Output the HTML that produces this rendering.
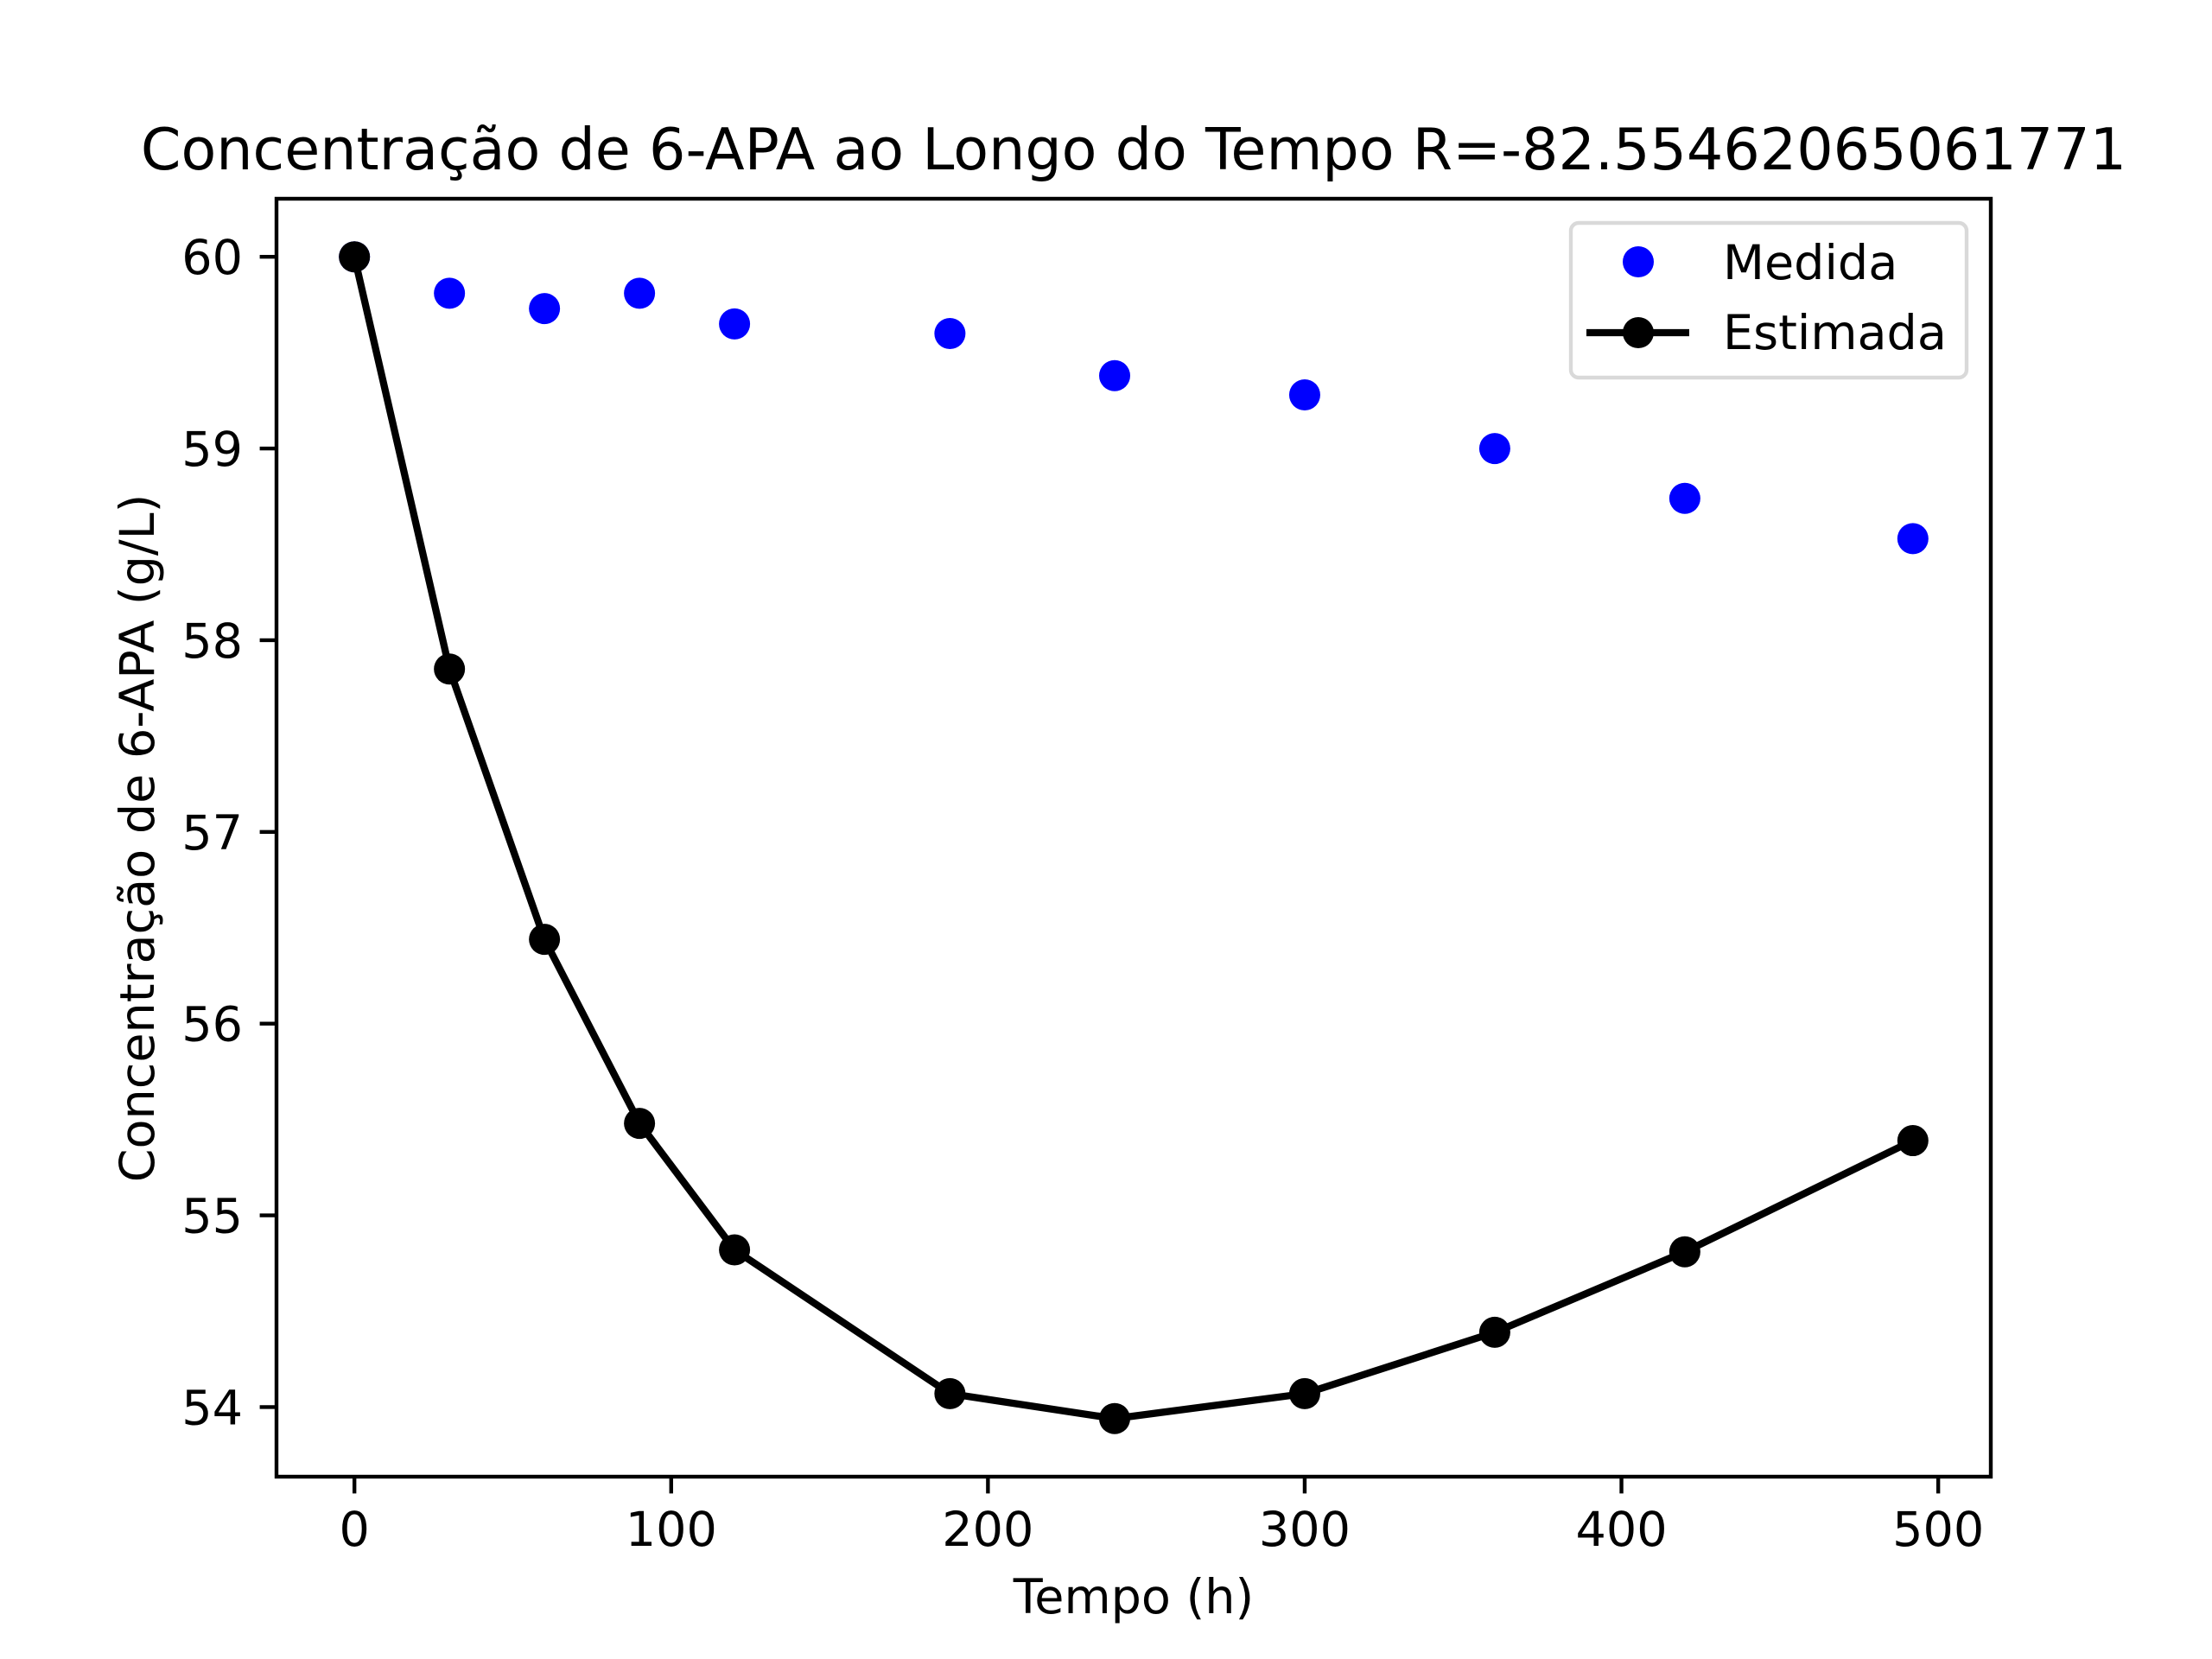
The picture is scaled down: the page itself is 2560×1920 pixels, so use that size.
<!DOCTYPE html>
<html><head><meta charset="utf-8"><style>
html,body{margin:0;padding:0;background:#fff;}
svg{display:block;font-family:"DejaVu Sans","Liberation Sans",sans-serif;}
</style></head><body>
<svg id="chart" width="2560" height="1920" viewBox="0 0 2560 1920" xmlns="http://www.w3.org/2000/svg">
<rect width="2560" height="1920" fill="#fff"/>
<text x="1312" y="196" font-size="66.7" text-anchor="middle">Concentração de 6-APA ao Longo do Tempo R=-82.55462065061771</text>
<g id="ticks"></g>
<g id="series"></g>
<rect x="320" y="230" width="1984" height="1479" fill="none" stroke="#000" stroke-width="4.4"/>
<text x="1312" y="1867" font-size="55.6" text-anchor="middle">Tempo (h)</text>
<text transform="translate(178,970) rotate(-90)" font-size="55.6" text-anchor="middle">Concentração de 6-APA (g/L)</text>
<g>
<rect x="1818" y="258" width="458" height="179" rx="9" fill="#fff" fill-opacity="0.8" stroke="#d9d9d9" stroke-width="4.4"/>
<circle cx="1896" cy="303" r="18" fill="#0000ff"/>
<text x="1994" y="323" font-size="55.6">Medida</text>
<line x1="1836" y1="385" x2="1955" y2="385" stroke="#000" stroke-width="8.3"/>
<circle cx="1896" cy="385" r="18" fill="#000"/>
<text x="1994" y="404" font-size="55.6">Estimada</text>
</g>
</svg>
<script>
const times = [0, 30, 60, 90, 120, 188, 240, 300, 360, 420, 492];
const medida = [60, 59.81, 59.73, 59.81, 59.65, 59.60, 59.38, 59.28, 59.00, 58.74, 58.53];
const estimada = [60, 57.85, 56.44, 55.48, 54.82, 54.07, 53.94, 54.07, 54.39, 54.81, 55.39];
const xTicks = [0, 100, 200, 300, 400, 500];
const yTicks = [54, 55, 56, 57, 58, 59, 60];

const NS = "http://www.w3.org/2000/svg";
const L = 320, R = 2304, T = 230, B = 1709;
const allY = medida.concat(estimada);
const xmin0 = Math.min(...times), xmax0 = Math.max(...times);
const ymin0 = Math.min(...allY), ymax0 = Math.max(...allY);
const xpad = (xmax0 - xmin0) * 0.05, ypad = (ymax0 - ymin0) * 0.05;
const xmin = xmin0 - xpad, xmax = xmax0 + xpad, ymin = ymin0 - ypad, ymax = ymax0 + ypad;
function sx(v) { return L + (v - xmin) / (xmax - xmin) * (R - L); }
function sy(v) { return B - (v - ymin) / (ymax - ymin) * (B - T); }
function mk(tag, attrs, parent) {
  const e = document.createElementNS(NS, tag);
  for (const k in attrs) e.setAttribute(k, attrs[k]);
  parent.appendChild(e);
  return e;
}
const tg = document.getElementById('ticks');
xTicks.forEach(t => {
  const l = mk('line', {x1: sx(t), x2: sx(t), y1: B, y2: B + 19.4, stroke: '#000', 'stroke-width': 4.4}, tg);
  
  
  const tx = mk('text', {x: sx(t), y: B + 80, 'font-size': 55.6, 'text-anchor': 'middle'}, tg);
  tx.textContent = t;
  
  
});
yTicks.forEach(t => {
  const l = mk('line', {x1: L - 19.4, x2: L, y1: sy(t), y2: sy(t), stroke: '#000', 'stroke-width': 4.4}, tg);
  
  
  const tx = mk('text', {x: L - 39, y: sy(t) + 20, 'font-size': 55.6, 'text-anchor': 'end'}, tg);
  tx.textContent = t;
  
  
});
const sg = document.getElementById('series');
times.forEach((t, i) => {
  const c = mk('circle', {cx: sx(t), cy: sy(medida[i]), r: 18, fill: '#0000ff'}, sg);
  
  
});
const pl = mk('polyline', {points: times.map((t, i) => sx(t) + ',' + sy(estimada[i])).join(' '), fill: 'none', stroke: '#000', 'stroke-width': 8.3, 'stroke-linejoin': 'round'}, sg);


times.forEach((t, i) => {
  const c = mk('circle', {cx: sx(t), cy: sy(estimada[i]), r: 18, fill: '#000'}, sg);
  
  
});
</script>
</body></html>
